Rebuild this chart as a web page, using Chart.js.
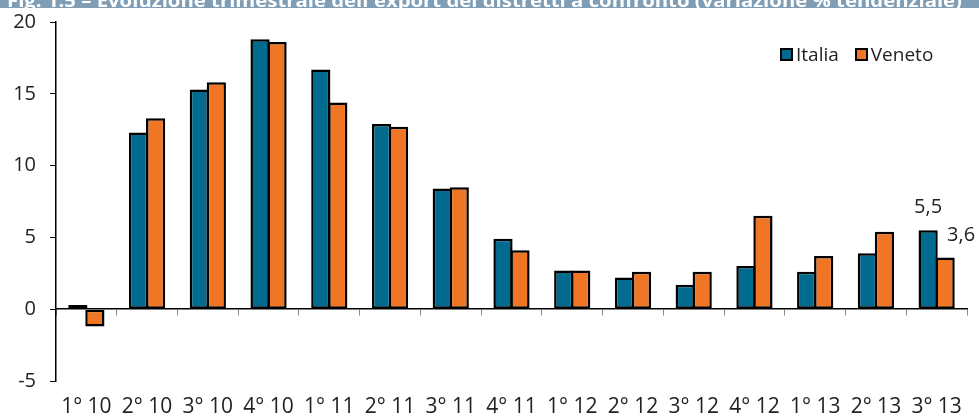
<!DOCTYPE html>
<html lang="it">
<head>
<meta charset="utf-8">
<title>Evoluzione trimestrale dell'export dei distretti</title>
<script src="https://cdn.jsdelivr.net/npm/chart.js@4/dist/chart.umd.min.js"></script>
<style>
  html, body { margin: 0; padding: 0; background: #fff; }
  #wrap { position: relative; width: 979px; height: 417px; }
  #legend {
    position: absolute; left: 780px; top: 41px;
    display: flex; align-items: center;
    font-family: "Open Sans", sans-serif; font-size: 19px; color: #222;
  }
  #legend .item { display: flex; align-items: center; margin-right: 16px; }
  #legend .box {
    width: 13px; height: 13px; box-sizing: border-box;
    border: 2.5px solid #000; margin-right: 3px;
  }
</style>
</head>
<body>
<div id="wrap">
  <canvas id="chart" width="979" height="417"></canvas>
  <div id="legend"></div>
</div>
<script>
// Quarterly year-on-year export change of industrial districts (%)
const title = "Fig. 1.5 \u2013 Evoluzione trimestrale dell'export dei distretti a confronto (variazione % tendenziale)";
const quarters = ["1° 10", "2° 10", "3° 10", "4° 10", "1° 11", "2° 11", "3° 11", "4° 11",
                  "1° 12", "2° 12", "3° 12", "4° 12", "1° 13", "2° 13", "3° 13"];
const italia = [0.3, 12.3, 15.3, 18.8, 16.7, 12.9, 8.4, 4.9, 2.7, 2.2, 1.7, 3.0, 2.6, 3.9, 5.5];
const veneto = [-1.2, 13.3, 15.8, 18.6, 14.4, 12.7, 8.5, 4.1, 2.7, 2.6, 2.6, 6.5, 3.7, 5.4, 3.6];
const seriesNames = ["Italia", "Veneto"];
const seriesColors = ["#006a8f", "#f07524"];
const yTicks = { min: -5, max: 20, step: 5 };

const FONT = '"Open Sans", sans-serif';
const TEXT = '#222';

// Header strip across the top of the figure
const headerPlugin = {
  id: 'header',
  beforeDraw(chart) {
    const ctx = chart.ctx;
    ctx.save();
    ctx.fillStyle = '#7f9db4';
    ctx.fillRect(0, 0, chart.width, 8);
    ctx.beginPath();
    ctx.rect(0, 0, chart.width, 8);
    ctx.clip();
    ctx.font = 'bold 18px ' + FONT;
    ctx.fillStyle = '#fff';
    ctx.textBaseline = 'alphabetic';
    const w = ctx.measureText(title).width;
    ctx.translate(7, 7);
    ctx.scale(955 / w, 1);
    ctx.fillText(title, 0, 0);
    ctx.restore();
  }
};

// Value labels on the latest quarter
const lastLabelsPlugin = {
  id: 'lastLabels',
  afterDatasetsDraw(chart) {
    const ctx = chart.ctx;
    const idx = quarters.length - 1;
    const offsets = [[0, -17], [16, -16]];
    ctx.save();
    ctx.font = '20px ' + FONT;
    ctx.fillStyle = TEXT;
    ctx.textAlign = 'center';
    ctx.textBaseline = 'bottom';
    chart.data.datasets.forEach((ds, i) => {
      const el = chart.getDatasetMeta(i).data[idx];
      const txt = ds.data[idx].toFixed(1).replace('.', ',');
      ctx.fillText(txt, el.x + offsets[i][0], el.y + offsets[i][1] + 4);
    });
    ctx.restore();
  }
};

const chart = new Chart(document.getElementById('chart'), {
  type: 'bar',
  data: {
    labels: quarters,
    datasets: [
      { label: seriesNames[0], data: italia, backgroundColor: seriesColors[0] },
      { label: seriesNames[1], data: veneto, backgroundColor: seriesColors[1] }
    ]
  },
  options: {
    responsive: false,
    animation: false,
    events: [],
    layout: { padding: { left: 0, right: 12, top: 22, bottom: 0 } },
    datasets: {
      bar: {
        borderColor: '#000',
        borderWidth: 2.5,
        borderSkipped: false,
        categoryPercentage: 0.56,
        barPercentage: 1.13
      }
    },
    plugins: {
      legend: { display: false },
      tooltip: { enabled: false },
      title: { display: false }
    },
    scales: {
      y: {
        min: yTicks.min,
        max: yTicks.max,
        ticks: {
          stepSize: yTicks.step,
          padding: 14,
          color: TEXT,
          font: { family: FONT, size: 20 }
        },
        grid: { drawOnChartArea: false, drawTicks: true, tickLength: 6, tickColor: '#000', tickWidth: 1 },
        border: { display: true, color: '#000', width: 1.5 },
        afterFit(scale) {
          scale.width = 56;
          scale.paddingTop = 0;
          scale.paddingBottom = 0;
        }
      },
      x: {
        position: 'bottom',
        ticks: {
          padding: 13,
          color: TEXT,
          maxRotation: 0,
          autoSkip: false,
          font: { family: FONT, size: 21 }
        },
        grid: { display: false, drawTicks: false, tickLength: 0 },
        border: { display: false },
        afterFit(scale) { scale.height = 36; }
      },
      x2: {
        type: 'category',
        axis: 'x',
        position: { y: 0 },
        ticks: { display: false },
        grid: { offset: true, drawOnChartArea: false, drawTicks: true, tickLength: 6, tickColor: '#8a8a8a', tickWidth: 1 },
        border: { display: true, color: '#000', width: 1.5 },
        afterFit(scale) { scale.height = 0; }
      }
    }
  },
  plugins: [headerPlugin, lastLabelsPlugin]
});

// Legend built from the chart's datasets
const legend = document.getElementById('legend');
chart.data.datasets.forEach(ds => {
  const item = document.createElement('div');
  item.className = 'item';
  const box = document.createElement('span');
  box.className = 'box';
  box.style.background = ds.backgroundColor;
  const label = document.createElement('span');
  label.textContent = ds.label;
  item.appendChild(box);
  item.appendChild(label);
  legend.appendChild(item);
});
</script>
</body>
</html>
